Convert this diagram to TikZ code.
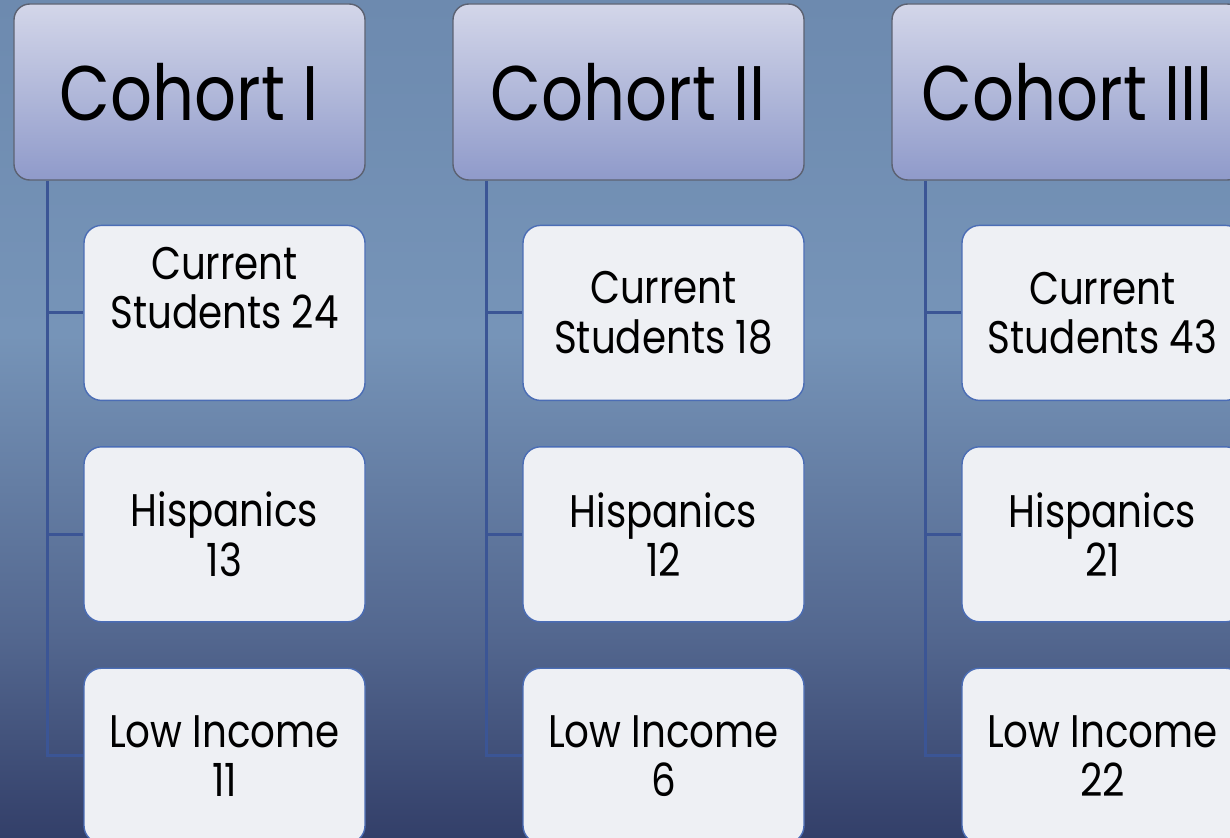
\documentclass[tikz,border=0pt]{standalone}
\usepackage{fontspec}
\setmainfont{Poppins}[FakeStretch=0.85]
\usetikzlibrary{positioning, calc}

\definecolor{BgTop}{HTML}{6D8AAF}
\definecolor{BgMid}{HTML}{7694B8}
\definecolor{BgLow}{HTML}{53678F}
\definecolor{BgBot}{HTML}{333F69}
\definecolor{HeadTop}{HTML}{D3D6E9}
\definecolor{HeadBot}{HTML}{8F9ACA}
\definecolor{HeadLine}{HTML}{5C6272}
\definecolor{LeafFill}{HTML}{EEF0F4}
\definecolor{LeafLine}{HTML}{4B6DB5}
\definecolor{Stem}{HTML}{3B5595}

\pgfdeclareverticalshading{slidebg}{100bp}{
  color(0bp)=(BgBot); color(25bp)=(BgBot); color(37bp)=(BgLow);
  color(55bp)=(BgMid); color(75bp)=(BgTop); color(100bp)=(BgTop)}

\tikzset{
  cohort/.style={rectangle, rounded corners=9pt, draw=HeadLine, line width=0.8pt,
                 top color=HeadTop, bottom color=HeadBot,
                 minimum width=7.02cm, minimum height=3.52cm,
                 font=\fontsize{44}{48}\selectfont},
  leaf/.style={rectangle, rounded corners=10pt, draw=LeafLine, line width=0.8pt,
               fill=LeafFill, minimum width=5.62cm, minimum height=3.5cm,
               align=center, font=\fontsize{26}{28}\selectfont},
  stem/.style={draw=Stem, line width=1.7pt}
}

\begin{document}
\begin{tikzpicture}
    % slide background
    \clip (0,0) rectangle (24.6,-16.74);
    \shade[shading=slidebg] (0,0) rectangle (24.6,-16.74);

    % cohort headers
    \node[cohort] (h1) at (3.79,-1.84) {Cohort I};
    \node[cohort] (h2) at (12.57,-1.84) {Cohort II};
    \node[cohort] (h3) at (21.35,-1.84) {Cohort III};

    % first cohort
    \node[leaf, text depth=1cm, below=0.88cm of h1.south east, anchor=north east] (c1a)
        {Current\\Students 24};
    \node[leaf, below=0.9cm of c1a] (c1b) {Hispanics\\13};
    \node[leaf, below=0.9cm of c1b] (c1c) {Low Income\\11};

    % second cohort
    \node[leaf, below=0.88cm of h2.south east, anchor=north east] (c2a)
        {Current\\Students 18};
    \node[leaf, below=0.9cm of c2a] (c2b) {Hispanics\\12};
    \node[leaf, below=0.9cm of c2b] (c2c) {Low Income\\6};

    % third cohort
    \node[leaf, below=0.88cm of h3.south east, anchor=north east] (c3a)
        {Current\\Students 43};
    \node[leaf, below=0.9cm of c3a] (c3b) {Hispanics\\21};
    \node[leaf, below=0.9cm of c3b] (c3c) {Low Income\\22};

    % stems from each header down to its boxes
    \coordinate (s1) at ($(h1.south west)+(0.68,0)$);
    \coordinate (s2) at ($(h2.south west)+(0.68,0)$);
    \coordinate (s3) at ($(h3.south west)+(0.68,0)$);
    \draw[stem] (s1) |- (c1a.west) (s1) |- (c1b.west) (s1) |- (c1c.west);
    \draw[stem] (s2) |- (c2a.west) (s2) |- (c2b.west) (s2) |- (c2c.west);
    \draw[stem] (s3) |- (c3a.west) (s3) |- (c3b.west) (s3) |- (c3c.west);
\end{tikzpicture}
\end{document}
